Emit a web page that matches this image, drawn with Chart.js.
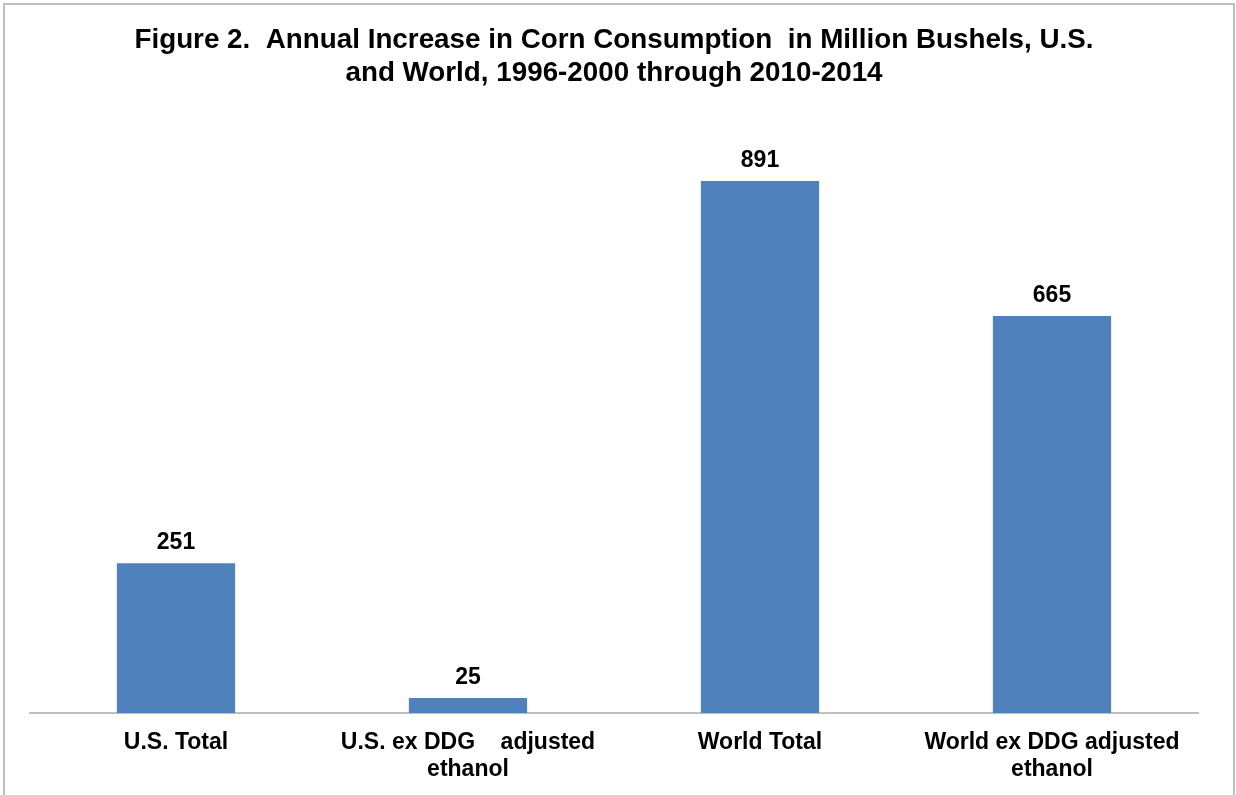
<!DOCTYPE html>
<html>
<head>
<meta charset="utf-8">
<title>Annual Increase in Corn Consumption</title>
<script src="https://cdn.jsdelivr.net/npm/chart.js@4.4.1/dist/chart.umd.min.js"></script>
<style>
  html, body { margin: 0; padding: 0; background: #fff; overflow: hidden; }
  #wrap { position: relative; width: 1236px; height: 795px; }
</style>
</head>
<body>
<div id="wrap"><canvas id="cornChart"></canvas></div>
<script>
// categories (multi-line labels as arrays) and annual increase, million bushels
var categories = [
  "U.S. Total",
  ["U.S. ex DDG    adjusted", "ethanol"],
  "World Total",
  ["World ex DDG adjusted", "ethanol"]
];
var increases = [251, 25, 891, 665];
var titleLines = [
  "Figure 2.  Annual Increase in Corn Consumption  in Million Bushels, U.S.",
  "and World, 1996-2000 through 2010-2014"
];

var barColor = "#4F81BD";
var fontFamily = "'Liberation Sans', Arial, sans-serif";

Chart.defaults.font.family = fontFamily;
Chart.defaults.color = "#000";

// thin gray frame around the whole figure
const framePlugin = {
  id: 'frame',
  beforeDraw: function (chart) {
    const ctx = chart.ctx;
    ctx.save();
    ctx.fillStyle = '#fff';
    ctx.fillRect(0, 0, chart.width, chart.height);
    ctx.strokeStyle = '#BFBFBF';
    ctx.lineWidth = 2;
    ctx.strokeRect(4, 4, chart.width - 6, chart.height + 20);
    ctx.restore();
  }
};

// value labels above each bar
const valueLabels = {
  id: 'valueLabels',
  afterDatasetsDraw: function (chart) {
    const ctx = chart.ctx;
    const meta = chart.getDatasetMeta(0);
    const values = chart.data.datasets[0].data;
    ctx.save();
    ctx.font = 'bold 23px ' + fontFamily;
    ctx.fillStyle = '#000';
    ctx.textAlign = 'center';
    ctx.textBaseline = 'middle';
    meta.data.forEach(function (bar, i) {
      ctx.fillText(String(values[i]), bar.x, bar.y - 20);
    });
    ctx.restore();
  }
};

var ctx = document.getElementById("cornChart").getContext("2d");

var cornChart = new Chart(ctx, {
  type: 'bar',
  data: {
    labels: categories,
    datasets: [{
      data: increases,
      backgroundColor: barColor,
      borderWidth: 0,
      categoryPercentage: 1,
      barPercentage: 0.405
    }]
  },
  options: {
    responsive: true,
    maintainAspectRatio: false,
    animation: false,
    layout: {
      padding: { left: 30, right: 38, top: 0, bottom: 0 }
    },
    plugins: {
      legend: { display: false },
      tooltip: { enabled: false },
      title: {
        display: true,
        text: titleLines,
        color: '#000',
        font: { size: 27.8, weight: 'bold', lineHeight: 33 / 27.8 },
        padding: { top: 24, bottom: 26 }
      }
    },
    scales: {
      x: {
        grid: { display: false, drawTicks: false },
        border: { display: true, color: '#BFBFBF', width: 2 },
        ticks: {
          color: '#000',
          padding: 16,
          maxRotation: 0,
          autoSkip: false,
          font: { size: 23, weight: 'bold', lineHeight: 27 / 23 }
        },
        afterFit: function (scale) {
          scale.height = 82;
        }
      },
      y: {
        display: false,
        min: 0,
        max: 1000
      }
    }
  },
  plugins: [framePlugin, valueLabels]
});
</script>
</body>
</html>
